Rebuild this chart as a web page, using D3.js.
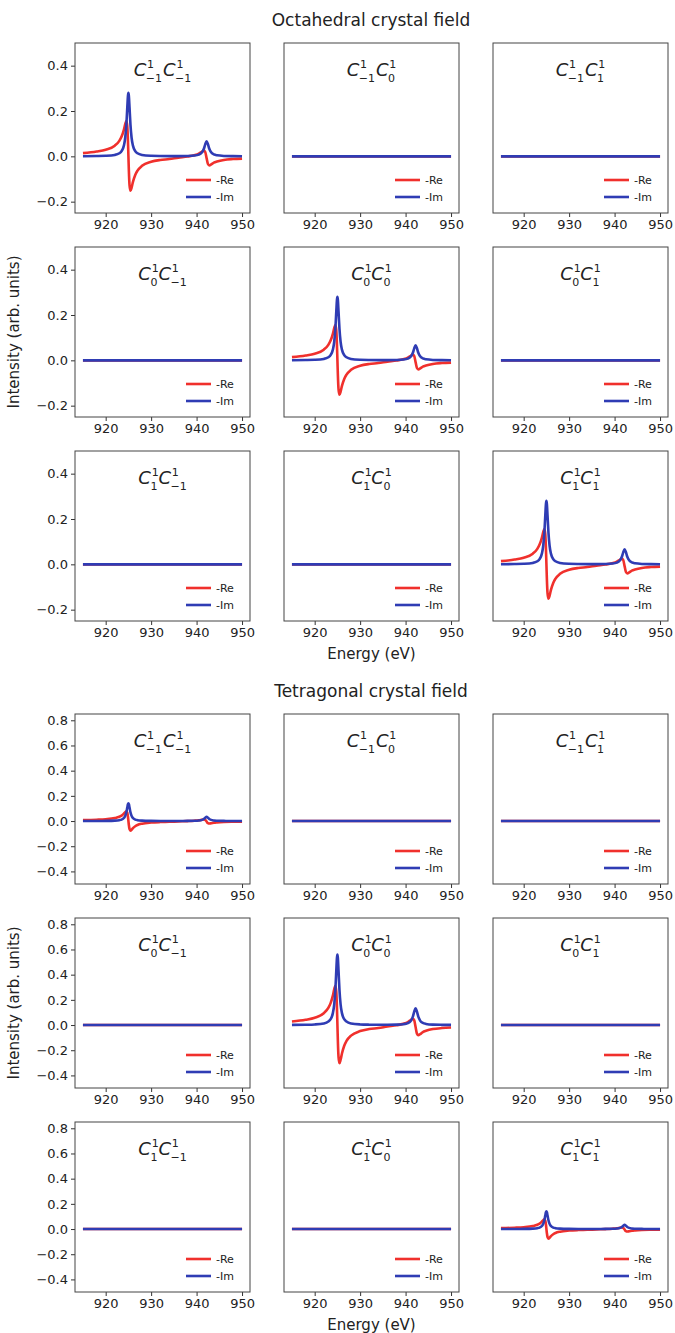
<!DOCTYPE html>
<html>
<head>
<meta charset="utf-8">
<script src="https://cdn.jsdelivr.net/npm/d3@7"></script>
<style>
  html, body { margin: 0; padding: 0; background: #fff; }
  text { font-family: "DejaVu Sans", sans-serif; fill: #222; }
</style>
</head>
<body>
<script>
// ---------------- data ----------------
const energy = [915, 918, 920, 922, 923, 923.5, 924, 924.3, 924.55, 924.75, 924.9, 925, 925.1, 925.25, 925.45, 925.7, 926, 926.5, 927, 928, 930, 932, 934, 936, 938, 939.5, 940.5, 941.2, 941.6, 941.9, 942.2, 942.5, 942.8, 943.2, 943.8, 944.5, 946, 948, 950];

// octahedral diagonal terms (-Re, -Im)
const octRe = [0.014, 0.021, 0.029, 0.047, 0.068, 0.087, 0.117, 0.142, 0.156, 0.133, 0.068, 0.002, -0.063, -0.128, -0.152, -0.138, -0.113, -0.082, -0.063, -0.042, -0.024, -0.016, -0.012, -0.006, -0.001, 0.005, 0.012, 0.021, 0.025, 0.019, -0.008, -0.034, -0.040, -0.036, -0.028, -0.023, -0.016, -0.012, -0.010];
const octIm = [0.0006, 0.0012, 0.0023, 0.0062, 0.0136, 0.0232, 0.0473, 0.082, 0.140, 0.214, 0.267, 0.280, 0.267, 0.214, 0.140, 0.082, 0.0473, 0.0232, 0.0136, 0.0062, 0.0024, 0.0014, 0.0011, 0.0011, 0.0017, 0.0034, 0.0075, 0.0177, 0.0332, 0.0530, 0.0662, 0.0530, 0.0332, 0.0177, 0.0083, 0.0044, 0.0017, 0.0008, 0.0005];

// tetragonal C(-1)C(-1) and C(1)C(1)
const tetSideRe = [0.007, 0.0105, 0.0145, 0.0235, 0.034, 0.0435, 0.0585, 0.071, 0.078, 0.0665, 0.034, 0.001, -0.0315, -0.064, -0.076, -0.069, -0.0565, -0.041, -0.0315, -0.021, -0.012, -0.008, -0.006, -0.003, -0.0005, 0.0025, 0.006, 0.0105, 0.0125, 0.0095, -0.004, -0.017, -0.020, -0.018, -0.014, -0.0115, -0.008, -0.006, -0.005];
const tetSideIm = [0.0003, 0.0006, 0.0012, 0.0031, 0.0068, 0.0116, 0.0237, 0.041, 0.070, 0.107, 0.1335, 0.140, 0.1335, 0.107, 0.070, 0.041, 0.0237, 0.0116, 0.0068, 0.0031, 0.0012, 0.0007, 0.0006, 0.0006, 0.0009, 0.0017, 0.0038, 0.0089, 0.0166, 0.0265, 0.0331, 0.0265, 0.0166, 0.0089, 0.0042, 0.0022, 0.0009, 0.0004, 0.0003];

// tetragonal C(0)C(0)
const tetMidRe = [0.028, 0.042, 0.058, 0.094, 0.136, 0.174, 0.234, 0.284, 0.312, 0.266, 0.136, 0.004, -0.126, -0.256, -0.304, -0.276, -0.226, -0.164, -0.126, -0.084, -0.048, -0.032, -0.024, -0.012, -0.002, 0.010, 0.024, 0.042, 0.050, 0.038, -0.016, -0.068, -0.080, -0.072, -0.056, -0.046, -0.032, -0.024, -0.020];
const tetMidIm = [0.0012, 0.0024, 0.0046, 0.0124, 0.0272, 0.0464, 0.0946, 0.164, 0.280, 0.428, 0.534, 0.560, 0.534, 0.428, 0.280, 0.164, 0.0946, 0.0464, 0.0272, 0.0124, 0.0048, 0.0028, 0.0022, 0.0022, 0.0034, 0.0068, 0.015, 0.0354, 0.0664, 0.106, 0.1324, 0.106, 0.0664, 0.0354, 0.0166, 0.0088, 0.0034, 0.0016, 0.001];

// off-diagonal terms are zero
const zeroEnergy = [915, 950];
const zeroValues = [0, 0];

const mIndex = ["\u22121", "0", "1"];
const xTicks = [920, 930, 940, 950];
const octYTicks = [-0.2, 0.0, 0.2, 0.4];
const tetYTicks = [-0.4, -0.2, 0.0, 0.2, 0.4, 0.6, 0.8];
const octYDomain = [-0.25, 0.5];
const tetYDomain = [-0.5, 0.85];
const xDomain = [913.25, 951.75];
const figTitles = ["Octahedral crystal field", "Tetragonal crystal field"];
const legendLabels = ["-Re", "-Im"];

// ---------------- layout ----------------
const W = 675, H = 1333;
const colX = [75, 284, 493];
const pw = 175, ph = 170;
const figs = [
  { title: figTitles[0], titleY: 26, rowY: [43, 247, 451], yDomain: octYDomain, yTicks: octYTicks,
    series: (r, c) => r === c ? [energy, octRe, octIm] : [zeroEnergy, zeroValues, zeroValues] },
  { title: figTitles[1], titleY: 697, rowY: [714, 918, 1122], yDomain: tetYDomain, yTicks: tetYTicks,
    series: (r, c) => (r === c ? (r === 1 ? [energy, tetMidRe, tetMidIm] : [energy, tetSideRe, tetSideIm]) : [zeroEnergy, zeroValues, zeroValues]) }
];
const RED = "#f0302c", BLUE = "#2f3cb4";

const svg = d3.select("body").append("svg").attr("width", W).attr("height", H);
const x = d3.scaleLinear().domain(xDomain).range([0, pw]);

figs.forEach((f, fi) => {
  svg.append("text").attr("x", 371).attr("y", f.titleY).attr("text-anchor", "middle")
    .attr("font-size", 17).text(f.title);
  const y = d3.scaleLinear().domain(f.yDomain).range([ph, 0]);
  const line = d3.line().x(d => x(d[0])).y(d => y(d[1])).curve(d3.curveMonotoneX);

  for (let r = 0; r < 3; r++) {
    for (let c = 0; c < 3; c++) {
      const g = svg.append("g").attr("transform", `translate(${colX[c]},${f.rowY[r]})`);
      const cid = `clip${fi}_${r}_${c}`;
      g.append("clipPath").attr("id", cid).append("rect").attr("width", pw).attr("height", ph);

      const [ex, re, im] = f.series(r, c);
      const lg = g.append("g").attr("clip-path", `url(#${cid})`);
      lg.append("path").datum(ex.map((e, i) => [e, re[i]])).attr("d", line)
        .attr("fill", "none").attr("stroke", RED).attr("stroke-width", 2.6).attr("stroke-linejoin", "round");
      lg.append("path").datum(ex.map((e, i) => [e, im[i]])).attr("d", line)
        .attr("fill", "none").attr("stroke", BLUE).attr("stroke-width", 2.6).attr("stroke-linejoin", "round");

      // axes
      const xa = g.append("g").attr("transform", `translate(0,${ph})`)
        .call(d3.axisBottom(x).tickValues(xTicks).tickSize(4).tickPadding(3).tickFormat(d3.format("d")));
      xa.select(".domain").remove();
      xa.selectAll("line").attr("stroke", "#333");
      xa.selectAll("text").attr("font-size", 13).attr("fill", "#222").style("font-family", "DejaVu Sans");
      if (c === 0) {
        const ya = g.append("g").call(d3.axisLeft(y).tickValues(f.yTicks).tickSize(4).tickPadding(3).tickFormat(d3.format(".1f")));
        ya.select(".domain").remove();
        ya.selectAll("line").attr("stroke", "#333");
        ya.selectAll("text").attr("font-size", 13).attr("fill", "#222").style("font-family", "DejaVu Sans");
      }
      g.append("rect").attr("width", pw).attr("height", ph).attr("fill", "none")
        .attr("stroke", "#444").attr("stroke-width", 1);

      // legend
      const lgd = g.append("g");
      [[RED, legendLabels[0], ph - 33], [BLUE, legendLabels[1], ph - 16]].forEach(([col, lab, ly]) => {
        lgd.append("line").attr("x1", pw - 64).attr("x2", pw - 39).attr("y1", ly).attr("y2", ly)
          .attr("stroke", col).attr("stroke-width", 2.6);
        lgd.append("text").attr("x", pw - 34).attr("y", ly + 4).attr("font-size", 11).text(lab);
      });

      // panel title C^1_i C^1_j as one text element with stacked scripts
      const supW = 7.0; // width of "1" at 11px
      const tt = g.append("text").attr("x", pw / 2).attr("y", 33).attr("text-anchor", "middle");
      [mIndex[r], mIndex[c]].forEach((sub, k) => {
        tt.append("tspan").attr("font-size", 18).attr("font-style", "italic")
          .attr("dy", k === 0 ? 0 : -5.5).attr("dx", k === 0 ? 0 : 1).text("C");
        tt.append("tspan").attr("font-size", 11).attr("dy", -8).attr("dx", 0.8).text("1");
        tt.append("tspan").attr("font-size", 11).attr("dy", 13.5).attr("dx", -supW - 1.3).text(sub);
      });
    }
  }
  // y label
  const midY = (f.rowY[0] + f.rowY[2] + ph) / 2;
  svg.append("text").attr("transform", `translate(19,${midY}) rotate(-90)`).attr("text-anchor", "middle")
    .attr("font-size", 15).text("Intensity (arb. units)");
  svg.append("text").attr("x", colX[1] + pw / 2).attr("y", f.rowY[2] + ph + 38).attr("text-anchor", "middle")
    .attr("font-size", 15).text("Energy (eV)");
});
</script>
</body>
</html>
